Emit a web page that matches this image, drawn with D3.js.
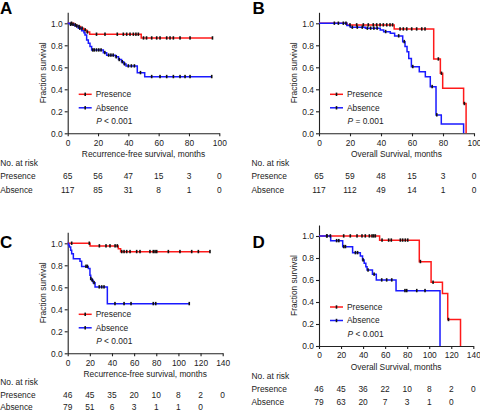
<!DOCTYPE html>
<html>
<head>
<meta charset="utf-8">
<script src="https://cdn.jsdelivr.net/npm/d3@7/dist/d3.min.js"></script>
<style>
  body { margin: 0; background: #fff; }
  svg { font-family: "Liberation Sans", Arial, sans-serif; }
</style>
</head>
<body>
<script>
// ---- panel A: recurrence-free survival, cohort 1
var aPresT = [0, 4, 6, 8.5, 10.5, 12.5, 14.5, 48.5];
var aPresS = [1, 0.985, 0.97, 0.955, 0.94, 0.92, 0.90, 0.866];
var aPresEnd = 95.5;
var aPresCens = [2.5, 5, 7.5, 9.5, 11.5, 13, 19, 24.6, 32.7, 36.7, 38.9, 41.1, 43.3, 45, 46.6,
  50, 52, 55.4, 58.7, 60.9, 65.3, 67.5, 69.7, 74.1, 80.7, 95.5];
var aAbsT = [0, 1.5, 4.8, 7, 9.2, 10.7, 11.4, 12.5, 13.6, 14.7, 15.8, 23.5, 25.7, 31.5, 33.5, 35.5, 37, 38.5, 45.9, 50.8];
var aAbsS = [1, 0.99, 0.975, 0.954, 0.933, 0.915, 0.894, 0.848, 0.818, 0.788, 0.757, 0.733, 0.71, 0.695, 0.67, 0.65, 0.63, 0.612, 0.551, 0.515];
var aAbsEnd = 95;
var aAbsCens = [2, 3.5, 6, 8, 16.5, 17.5, 19, 20.5, 22, 24.5, 27, 28.5, 30, 32, 34, 36, 37.5, 40, 42, 44, 48,
  55.4, 60.9, 65.3, 69.7, 74.1, 77.4, 80.7, 95];
var aRiskPres = [65, 56, 47, 15, 3, 0];
var aRiskAbs = [117, 85, 31, 8, 1, 0];

// ---- panel B: overall survival, cohort 1
var bPresT = [0, 18, 48.5, 74, 78.3, 79.8, 93.3, 94.9];
var bPresS = [1, 0.985, 0.948, 0.675, 0.545, 0.41, 0.27, 0];
var bPresEnd = 94.9;
var bPresCens = [9.9, 12.5, 15.7, 17.4, 20, 24.3, 28.6, 31.8, 35, 37.2, 39.4, 41.5, 43.7, 45.8, 47.5,
  52.3, 54.4, 56.6, 59.8, 63, 66.3, 68.4, 77, 79, 93.8];
var bAbsT = [0, 18, 20.2, 29.9, 39.5, 41.7, 46, 48.8, 54, 55.5, 56.8, 57.9, 59.6, 64.7, 68.6, 71.8, 75.5, 78.9, 93.3];
var bAbsS = [1, 0.98, 0.964, 0.955, 0.94, 0.924, 0.909, 0.885, 0.833, 0.79, 0.742, 0.68, 0.606, 0.56, 0.515, 0.424, 0.167, 0.085, 0];
var bAbsEnd = 93.3;
var bAbsCens = [21.5, 24.7, 27.9, 31.2, 33.3, 35.4, 37.5, 43, 51.4, 55, 60.5, 73, 76];
var bRiskPres = [65, 59, 48, 15, 3, 0];
var bRiskAbs = [117, 112, 49, 14, 1, 0];

// ---- panel C: recurrence-free survival, cohort 2
var cPresT = [0, 20.2, 45.7, 47.8];
var cPresS = [1, 0.976, 0.95, 0.924];
var cPresEnd = 128.5;
var cPresCens = [3.6, 19.5, 28.6, 34.6, 38.2, 42.8, 44.8, 48.8, 50.9, 53.3, 56.3, 62.3, 65.3, 74.3, 77.3,
  78.9, 80.4, 90.9, 101.4, 112, 118, 128.5];
var cAbsT = [0, 0.7, 1.5, 2.7, 3.6, 5.1, 11.1, 12.6, 18.6, 20.1, 20.8, 21.7, 23, 24.7, 35.8];
var cAbsS = [1, 0.984, 0.967, 0.936, 0.906, 0.86, 0.836, 0.79, 0.77, 0.709, 0.679, 0.664, 0.642, 0.603, 0.451];
var cAbsEnd = 109.8;
var cAbsCens = [16.5, 17.7, 20.8, 22.2, 23.8, 28.5, 30.7, 32.8, 42.7, 50.9, 57.2, 77.3, 79.5, 109.8];
var cRiskPres = [46, 45, 35, 20, 10, 8, 2, 0];
var cRiskAbs = [79, 51, 6, 3, 1, 1, 0];

// ---- panel D: overall survival, cohort 2
var dPresT = [0, 55, 91, 101.7, 112, 116.8, 128.4];
var dPresS = [1, 0.962, 0.767, 0.579, 0.478, 0.24, 0];
var dPresEnd = 128.4;
var dPresCens = [7.3, 10.3, 22.4, 28.4, 34.5, 39, 42, 45.7, 48.1, 49.6, 51.1, 57.2, 63.2, 65.6, 73.8,
  75.9, 78.3, 80.5, 92, 103.5, 117.5];
var dAbsT = [0, 10.6, 21.5, 30.5, 37.5, 39.5, 41, 42.5, 43.6, 48.5, 52, 69.9, 109.8];
var dAbsS = [1, 0.957, 0.903, 0.848, 0.818, 0.782, 0.752, 0.721, 0.69, 0.652, 0.6, 0.503, 0];
var dAbsEnd = 109.8;
var dAbsCens = [7, 16, 18, 22.5, 24, 33, 35, 40, 44.5, 50, 56.9, 61.4, 66, 78, 79.6, 88.7, 96.2];
var dRiskPres = [46, 45, 36, 22, 10, 8, 2, 0];
var dRiskAbs = [79, 63, 20, 7, 3, 1, 0];

var yTicks = [0, 0.2, 0.4, 0.6, 0.8, 1.0];
var RED = "#ff1a1a", BLUE = "#1a1aff", AXIS = "#222";
var FS = 8.4;

var svg = d3.select('body').append('svg')
  .attr('width', 480)
  .attr('height', 413);

function survAt(t, s, x) {
  var v = s[0];
  for (var i = 0; i < t.length; i++) if (t[i] <= x) v = s[i];
  return v;
}

function drawPanel(o) {
  var x = d3.scaleLinear().domain([0, o.xmax]).range([o.x0, o.x1]);
  var y = d3.scaleLinear().domain([0, 1.1]).range([o.y0, o.y0 - 121]);
  var g = svg.append('g');

  g.append('text')
    .attr('x', o.lx).attr('y', o.ly)
    .style('font-size', '17px').style('font-weight', 'bold')
    .text(o.letter);

  var xa = g.append('g')
    .attr('transform', 'translate(0,' + o.y0 + ')')
    .call(d3.axisBottom(x).tickValues(d3.range(0, o.xmax + 1, 20)).tickSize(3).tickSizeOuter(0).tickPadding(3.5));
  var ya = g.append('g')
    .attr('transform', 'translate(' + o.x0 + ',0)')
    .call(d3.axisLeft(y).tickValues(yTicks).tickFormat(d3.format('.1f')).tickSize(3).tickSizeOuter(0).tickPadding(2));
  [xa, ya].forEach(function (a) {
    a.selectAll('path, line').attr('stroke', AXIS).attr('stroke-width', 1.1);
    a.selectAll('text').attr('fill', '#222').style('font-size', FS + 'px').style('font-family', null);
  });

  g.append('text')
    .attr('transform', 'translate(' + (o.x0 - 24.5) + ',' + ((y(0) + y(1.1)) / 2) + ') rotate(-90)')
    .attr('text-anchor', 'middle').attr('dy', '0.35em')
    .style('font-size', FS + 'px').attr('fill', '#222')
    .text('Fraction survival');

  g.append('text')
    .attr('x', (o.x0 + o.x1) / 2).attr('y', o.y0 + 21).attr('dy', '0.35em')
    .attr('text-anchor', 'middle')
    .style('font-size', FS + 'px').attr('fill', '#222')
    .text(o.xlabel);

  var line = d3.line()
    .x(function (d) { return x(d[0]); })
    .y(function (d) { return y(d[1]); })
    .curve(d3.curveStepAfter);

  o.series.forEach(function (s) {
    var pts = s.t.map(function (t, i) { return [t, s.s[i]]; });
    pts.push([s.end, s.s[s.s.length - 1]]);
    g.append('path')
      .attr('d', line(pts))
      .attr('fill', 'none')
      .attr('stroke', s.color)
      .attr('stroke-width', 1.5);
  });
  o.series.forEach(function (s) {
    g.selectAll(null)
      .data(s.cens)
      .enter().append('rect')
      .attr('x', function (c) { return x(c) - 0.8; })
      .attr('y', function (c) { return y(survAt(s.t, s.s, c)) - 1.8; })
      .attr('width', 1.6)
      .attr('height', 3.4)
      .attr('fill', '#111');
  });

  // legend
  var leg = g.append('g');
  o.series.forEach(function (s, i) {
    var ly = o.y0 - 39 + i * 13.5;
    leg.append('line')
      .attr('x1', o.x0 + 11).attr('x2', o.x0 + 24)
      .attr('y1', ly).attr('y2', ly)
      .attr('stroke', s.color).attr('stroke-width', 1.5);
    leg.append('rect')
      .attr('x', o.x0 + 16.7).attr('y', ly - 1.7)
      .attr('width', 1.6).attr('height', 3.4).attr('fill', '#111');
    leg.append('text')
      .attr('x', o.x0 + 28).attr('y', ly).attr('dy', '0.35em')
      .style('font-size', FS + 'px').attr('fill', '#222')
      .text(s.name);
  });
  var pt = leg.append('text')
    .attr('x', o.x0 + 28.5).attr('y', o.y0 - 12).attr('dy', '0.35em')
    .style('font-size', FS + 'px').attr('fill', '#222');
  pt.append('tspan').style('font-style', 'italic').text('P');
  pt.append('tspan').text(' ' + o.p);

  // number at risk
  var rx = o.x0 - 67.5;
  var rows = [['No. at risk', null, o.rowY[0]], ['Presence', o.riskPres, o.rowY[1]], ['Absence', o.riskAbs, o.rowY[2]]];
  rows.forEach(function (r) {
    g.append('text')
      .attr('x', rx).attr('y', o.y0 + r[2]).attr('dy', '0.35em')
      .style('font-size', FS + 'px').attr('fill', '#222')
      .text(r[0]);
    if (!r[1]) return;
    g.selectAll(null)
      .data(r[1])
      .enter().append('text')
      .attr('x', function (d, i) { return x(i * 20); })
      .attr('y', o.y0 + r[2]).attr('dy', '0.35em')
      .attr('text-anchor', 'middle')
      .style('font-size', FS + 'px').attr('fill', '#222')
      .text(function (d) { return d; });
  });
}

drawPanel({
  letter: 'A', lx: 0, ly: 14, x0: 67.7, x1: 219.3, y0: 133.3, xmax: 100,
  xlabel: 'Recurrence-free survival, months', p: '< 0.001', rowY: [29.7, 42.7, 56.5],
  riskPres: aRiskPres, riskAbs: aRiskAbs,
  series: [
    { name: 'Presence', color: RED, t: aPresT, s: aPresS, end: aPresEnd, cens: aPresCens },
    { name: 'Absence', color: BLUE, t: aAbsT, s: aAbsS, end: aAbsEnd, cens: aAbsCens }
  ]
});
drawPanel({
  letter: 'B', lx: 252.5, ly: 14, x0: 319, x1: 474, y0: 133.3, xmax: 100,
  xlabel: 'Overall Survival, months', p: '= 0.001', rowY: [29.7, 42.7, 56.5],
  riskPres: bRiskPres, riskAbs: bRiskAbs,
  series: [
    { name: 'Presence', color: RED, t: bPresT, s: bPresS, end: bPresEnd, cens: bPresCens },
    { name: 'Absence', color: BLUE, t: bAbsT, s: bAbsS, end: bAbsEnd, cens: bAbsCens }
  ]
});
drawPanel({
  letter: 'C', lx: 0, ly: 248, x0: 67.7, x1: 222.7, y0: 353.3, xmax: 140,
  xlabel: 'Recurrence-free survival, months', p: '< 0.001', rowY: [29.2, 41.8, 54.2],
  riskPres: cRiskPres, riskAbs: cRiskAbs,
  series: [
    { name: 'Presence', color: RED, t: cPresT, s: cPresS, end: cPresEnd, cens: cPresCens },
    { name: 'Absence', color: BLUE, t: cAbsT, s: cAbsS, end: cAbsEnd, cens: cAbsCens }
  ]
});
drawPanel({
  letter: 'D', lx: 252.5, ly: 248, x0: 319, x1: 473.3, y0: 346, xmax: 140,
  xlabel: 'Overall Survival, months', p: '< 0.001', rowY: [29.7, 42.7, 56.3],
  riskPres: dRiskPres, riskAbs: dRiskAbs,
  series: [
    { name: 'Presence', color: RED, t: dPresT, s: dPresS, end: dPresEnd, cens: dPresCens },
    { name: 'Absence', color: BLUE, t: dAbsT, s: dAbsS, end: dAbsEnd, cens: dAbsCens }
  ]
});
</script>
</body>
</html>
